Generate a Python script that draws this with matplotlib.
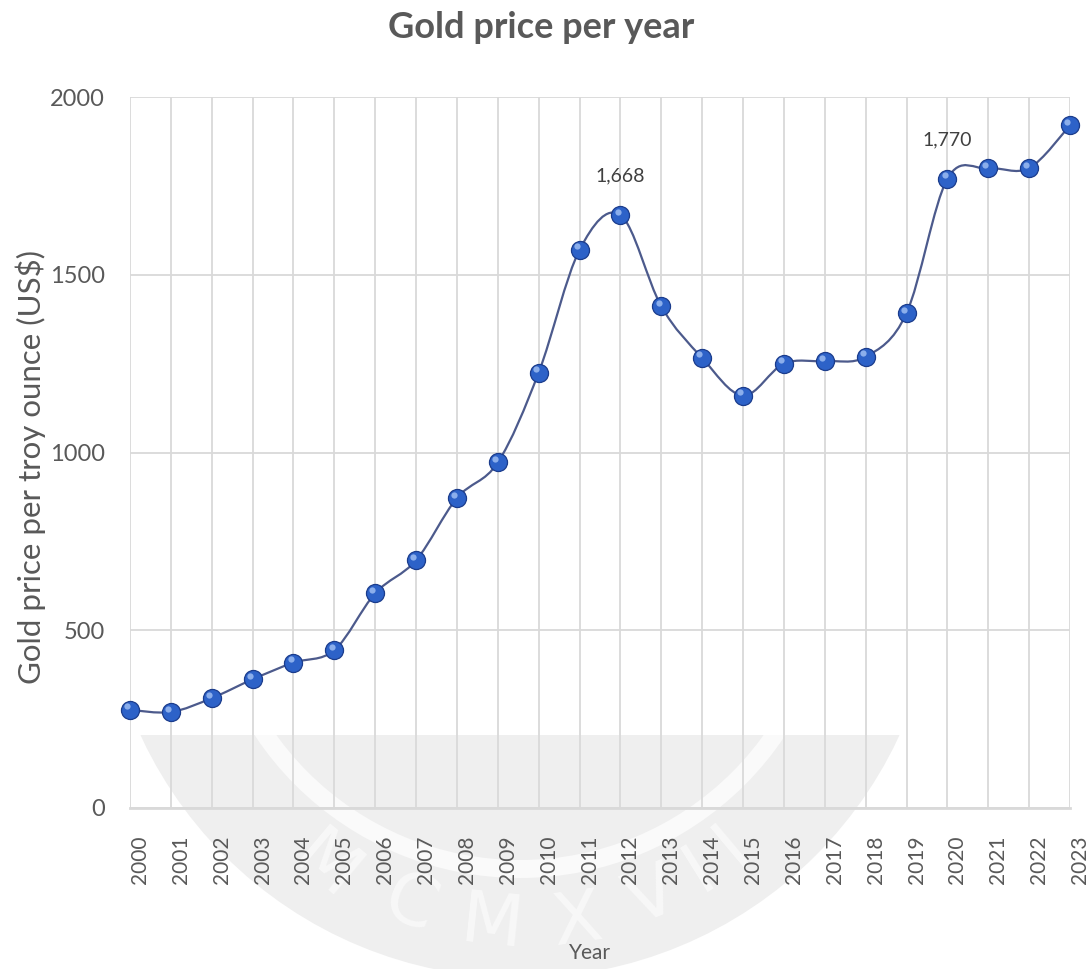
import numpy as np
import matplotlib
matplotlib.use("Agg")
import matplotlib.pyplot as plt
import matplotlib.transforms as mtransforms
from matplotlib.path import Path
from matplotlib.patches import PathPatch, Circle, Wedge, Rectangle

# yearly average gold price (US$ per troy ounce)
years = list(range(2000, 2024))
price = [276, 270, 309, 362, 409, 444, 604, 697, 872, 972, 1225, 1570,
         1668, 1411, 1266, 1160, 1250, 1257, 1269, 1392, 1770, 1799, 1800, 1920]
labelled_years = [2012, 2020]
y_ticks = [0, 500, 1000, 1500, 2000]

plt.rcParams['font.family'] = ['Lato', 'DejaVu Sans']
grey_txt = '#595959'

fig = plt.figure(figsize=(10.92, 9.69), dpi=100)

# faint seal in the background, in figure pixels (y going down)
bg = fig.add_axes([0, 0, 1, 1], zorder=0)
bg.set_xlim(0, 1092)
bg.set_ylim(969, 0)
bg.axis('off')
clip = Rectangle((0, 735), 1092, 300, transform=bg.transData)
seal = [Circle((520, 560), 418, color='#efefef', lw=0),
        Wedge((520, 560), 318, 0, 360, width=18, color='#fafafa', lw=0)]
for p in seal:
    bg.add_patch(p)
    p.set_clip_path(clip)
for ch, (cx, cy, rot) in zip("MCMXVII", [(325, 868, -40), (410, 905, -22), (492, 925, -6),
                                          (578, 922, 8), (652, 898, 22), (700, 870, 32),
                                          (733, 845, 40)]):
    bg.text(cx, cy, ch, fontsize=52, color='#f8f8f8', ha='center', va='center',
            rotation=rot, family='DejaVu Sans')

ax = fig.add_axes([130 / 1092, 1 - 808 / 969, 940 / 1092, 711 / 969], zorder=1)
ax.set_facecolor('none')

x = np.array(years, dtype=float)
y = np.array(price, dtype=float)

# smoothed connecting line (cubic Bezier segments through the points)
pts = np.column_stack([x, y])
verts = [pts[0]]
codes = [Path.MOVETO]
n = len(pts)
for i in range(n - 1):
    p0 = pts[max(i - 1, 0)]
    p1 = pts[i]
    p2 = pts[i + 1]
    p3 = pts[min(i + 2, n - 1)]
    c1 = p1 + (p2 - p0) / 6
    c2 = p2 - (p3 - p1) / 6
    verts += [c1, c2, p2]
    codes += [Path.CURVE4] * 3
ax.add_patch(PathPatch(Path(verts, codes), fill=False, edgecolor='#4c5a8c',
                       lw=1.6, zorder=3, clip_on=False))

ax.plot(x, y, 'o', ms=13, mfc='#2d62c8', mec='#1b3c8c', mew=0.9,
        zorder=4, clip_on=False)
hl = ax.transData + mtransforms.ScaledTranslation(-2 / 72, 2.5 / 72, fig.dpi_scale_trans)
ax.plot(x, y, 'o', ms=4.5, mfc='#9dbcf2', mec='none', alpha=0.85,
        zorder=5, clip_on=False, transform=hl)

for yr in labelled_years:
    v = price[years.index(yr)]
    ax.annotate(f"{v:,}", (yr, v), xytext=(0, 22), textcoords='offset points',
                ha='center', va='bottom', fontsize=14, color='#404040')

ax.set_xticks(years)
# rotated year labels start at the gridline and lean to its right
ax.set_xticklabels([str(yr) for yr in years], rotation=90, ha='left',
                   fontsize=15, color=grey_txt)
ax.set_yticks(y_ticks)
ax.set_yticklabels([str(t) for t in y_ticks], fontsize=17, color=grey_txt)
ax.set_xlim(2000, 2023)
ax.set_ylim(0, 2000)
ax.tick_params(axis='both', length=0)
ax.tick_params(axis='x', pad=20)
ax.tick_params(axis='y', pad=18)

ax.grid(True, color='#d9d9d9', lw=1.3, zorder=1)
ax.set_axisbelow(True)
for side in ['top', 'right', 'left']:
    ax.spines[side].set_visible(False)
ax.spines['bottom'].set_color('#d9d9d9')
ax.spines['bottom'].set_linewidth(2)

fig.text(31 / 1092, 1 - 467 / 969, 'Gold price per troy ounce (US$)', rotation=90,
         ha='center', va='center', fontsize=22.5, color=grey_txt)
fig.text(590 / 1092, 1 - 953 / 969, 'Year', ha='center', va='center',
         fontsize=15, color=grey_txt)
fig.text(541 / 1092, 1 - 28 / 969, 'Gold price per year', ha='center', va='center',
         fontsize=26, fontweight='bold', color=grey_txt)

fig.savefig('out.png', dpi=100)
